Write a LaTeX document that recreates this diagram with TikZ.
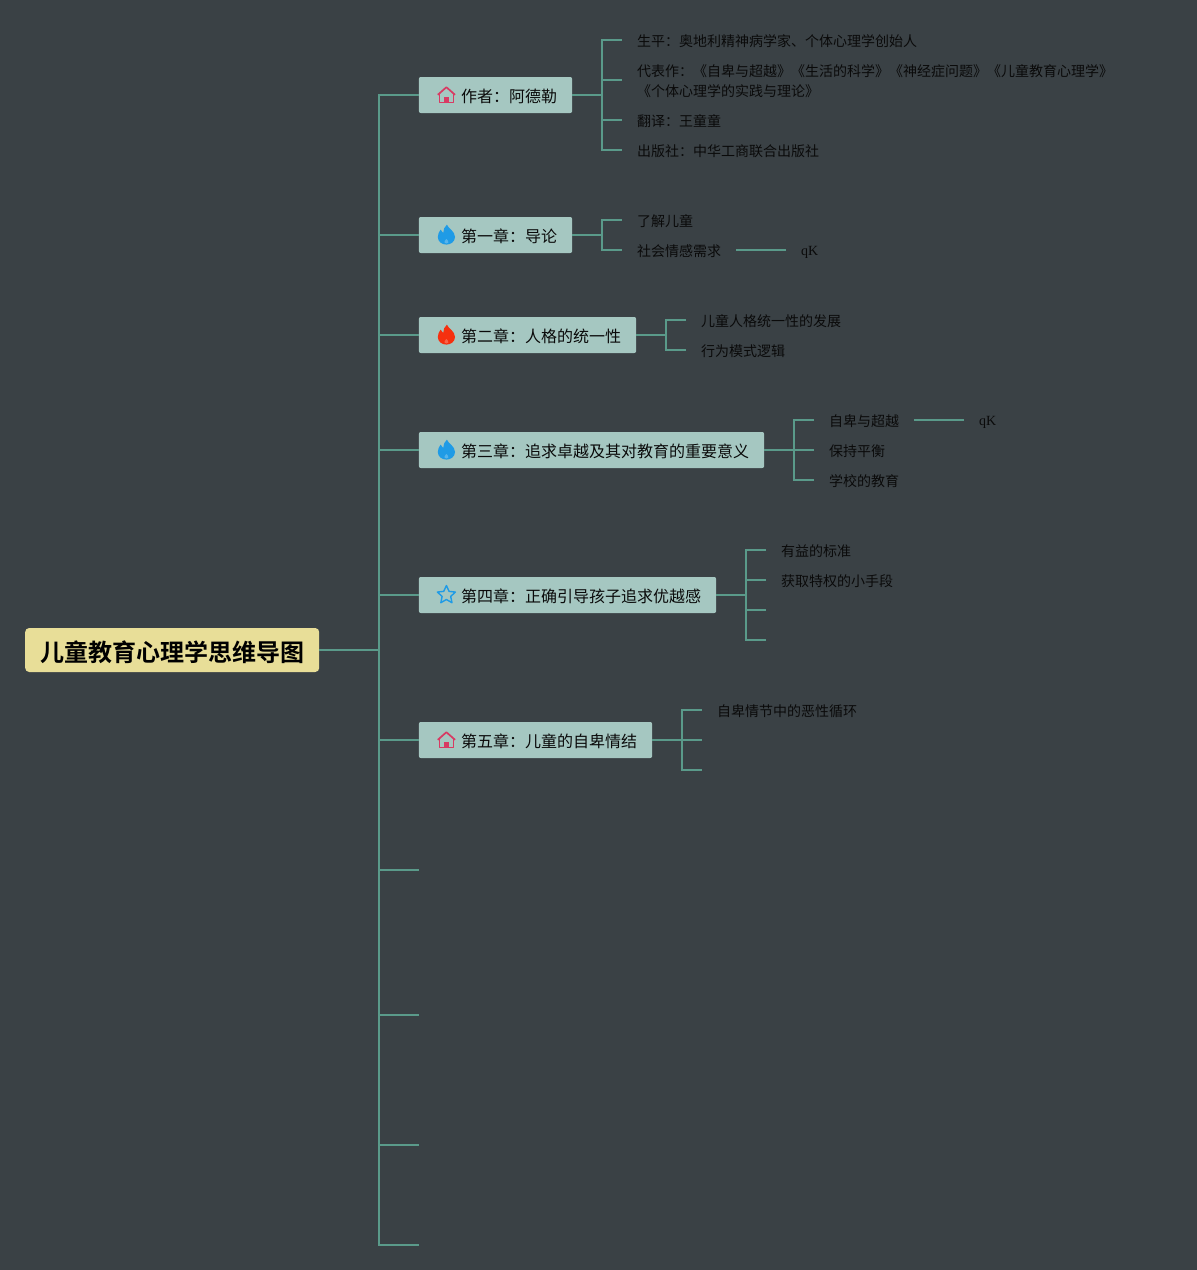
\documentclass[tikz,border=0pt]{standalone}
\usepackage{fontspec}
\setmainfont{Noto Sans CJK SC}[BoldFont={Noto Sans CJK SC Bold}]
\newfontfamily\latinserif{Liberation Serif}
\definecolor{bgcol}{HTML}{3A4145}
\definecolor{linkcol}{HTML}{5A9A8A}
\definecolor{boxcol}{HTML}{A5C7C1}
\definecolor{rootcol}{HTML}{E8DE98}
\definecolor{inkcol}{HTML}{0A0A0A}
\definecolor{homecol}{HTML}{D83A63}
\definecolor{bluecol}{HTML}{1F9BE6}
\definecolor{redcol}{HTML}{F5300F}
\tikzset{
  link/.style={color=linkcol, line width=1.8pt},
  root/.style={fill=rootcol, rounded corners=4pt, anchor=west, minimum width=294pt, minimum height=44pt, inner sep=0pt, text height=24pt, text depth=2pt, font=\bfseries\fontsize{24}{28}\selectfont, text=black},
  chapter/.style={fill=boxcol, rounded corners=2pt, anchor=west, minimum height=36pt, inner xsep=15pt, inner ysep=0pt, text height=16pt, text depth=1.8pt, font=\fontsize{16}{20}\selectfont, text=inkcol},
  leaf/.style={anchor=west, inner xsep=15pt, inner ysep=0pt, align=left, text height=14pt, text depth=1.4pt, font=\fontsize{14}{20}\selectfont, text=inkcol},
  latin/.style={leaf, text height=13pt, text depth=1.6pt, font=\latinserif\fontsize{14}{20}\selectfont},
  pics/house/.style={code={
    \draw[color=homecol, line width=1.7pt, line join=round] (-8.6,-0.2) -- (0,-7.8) -- (8.6,-0.2);
    \draw[color=homecol, line width=1.7pt, line join=round] (-7,-1.5) -- (-7,7.5) -- (7,7.5) -- (7,-1.5);
    \fill[color=homecol] (-2.4,7.5) rectangle (2.4,1.8);
  }},
  pics/flame/.style={code={
    \fill[color=#1] (0.5,-10.4) .. controls (2,-6) and (8.6,-4) .. (8.6,2) .. controls (8.6,6.5) and (4.5,9.6) .. (0,9.6) .. controls (-4.5,9.6) and (-8.6,6.5) .. (-8.6,2) .. controls (-8.6,-1) and (-7.4,-3) .. (-5.8,-5.4) .. controls (-5.2,-4.2) and (-4.2,-3) .. (-3.2,-2) .. controls (-3.2,-5) and (-2,-8.4) .. (0.5,-10.4);
    \fill[color=#1!75!white] (0,4) .. controls (1.5,5.2) and (2.2,6.5) .. (1.9,7.6) .. controls (1.5,8.8) and (-1.5,8.8) .. (-1.9,7.6) .. controls (-2.2,6.5) and (-1.5,5.2) .. (0,4);
  }},
  pics/star/.style={code={
    \draw[color=bluecol, line width=1.4pt, line join=round] (0,-9.5) -- (2.65,-3.64) -- (9.03,-2.94) -- (4.28,1.39) -- (5.58,7.69) -- (0,4.5) -- (-5.58,7.69) -- (-4.28,1.39) -- (-9.03,-2.94) -- (-2.65,-3.64) -- cycle;
  }},
}
\begin{document}
\begin{tikzpicture}[x=1pt,y=-1pt]
\fill[color=bgcol] (0,0) rectangle (1197,1270);
\useasboundingbox (0,0) rectangle (1197,1270);
% centre and chapters
\node[root] (root) at (25,650) {儿童教育心理学思维导图};
\coordinate (spine) at (379,650);
\node[chapter] (author) at (418.6,95) {\hspace*{27.4pt}作者：阿德勒};
\node[chapter] (ch1) at (418.6,235) {\hspace*{27.4pt}第一章：导论};
\node[chapter] (ch2) at (418.6,335) {\hspace*{27.4pt}第二章：人格的统一性};
\node[chapter] (ch3) at (418.6,450) {\hspace*{27.4pt}第三章：追求卓越及其对教育的重要意义};
\node[chapter] (ch4) at (418.6,595) {\hspace*{27.4pt}第四章：正确引导孩子追求优越感};
\node[chapter] (ch5) at (418.6,740) {\hspace*{27.4pt}第五章：儿童的自卑情结};
\coordinate (ch6) at (419,870);
\coordinate (ch7) at (419,1015);
\coordinate (ch8) at (419,1145);
\coordinate (ch9) at (419,1245);
\draw[link] (root.east) -- (spine);
\foreach \n in {author,ch1,ch2,ch3,ch4,ch5,ch6,ch7,ch8,ch9}
  \draw[link] (spine) |- (\n.west);
% icons
\path (author.west) ++(27.8,0) pic {house};
\path (ch1.west) ++(27.8,0) pic {flame=bluecol};
\path (ch2.west) ++(27.8,0) pic {flame=redcol};
\path (ch3.west) ++(27.8,0) pic {flame=bluecol};
\path (ch4.west) ++(27.8,0) pic {star};
\path (ch5.west) ++(27.8,0) pic {house};
% author
\node[leaf] (life) at (622,40) {生平：奥地利精神病学家、个体心理学创始人};
\node[leaf, text height=34pt] (works) at (622,80) {代表作：《自卑与超越》《生活的科学》《神经症问题》《儿童教育心理学》\\《个体心理学的实践与理论》};
\node[leaf] (trans) at (622,120) {翻译：王童童};
\node[leaf] (press) at (622,150) {出版社：中华工商联合出版社};
\foreach \n in {life,works,trans,press}
  \draw[link] (author.east) -- ++(29.5,0) |- (\n.west);
% chapter one
\node[leaf] (know) at (622,220) {了解儿童};
\node[leaf] (need) at (622,250) {社会情感需求};
\node[latin] (needq) at (786,250) {qK};
\foreach \n in {know,need}
  \draw[link] (ch1.east) -- ++(29.5,0) |- (\n.west);
\draw[link] (need.east) -- (needq.west);
% chapter two
\node[leaf] (grow) at (686,320) {儿童人格统一性的发展};
\node[leaf] (logic) at (686,350) {行为模式逻辑};
\foreach \n in {grow,logic}
  \draw[link] (ch2.east) -- ++(29.5,0) |- (\n.west);
% chapter three
\node[leaf] (infer) at (814,420) {自卑与超越};
\node[latin] (inferq) at (964,420) {qK};
\node[leaf] (keep) at (814,450) {保持平衡};
\node[leaf] (school) at (814,480) {学校的教育};
\foreach \n in {infer,keep,school}
  \draw[link] (ch3.east) -- ++(29.5,0) |- (\n.west);
\draw[link] (infer.east) -- (inferq.west);
% chapter four
\node[leaf] (rule) at (766,550) {有益的标准};
\node[leaf] (trick) at (766,580) {获取特权的小手段};
\coordinate (empty1) at (766,610);
\coordinate (empty2) at (766,640);
\foreach \n in {rule,trick,empty1,empty2}
  \draw[link] (ch4.east) -- ++(29.5,0) |- (\n.west);
% chapter five
\node[leaf] (cycle) at (702,710) {自卑情节中的恶性循环};
\coordinate (empty3) at (702,740);
\coordinate (empty4) at (702,770);
\foreach \n in {cycle,empty3,empty4}
  \draw[link] (ch5.east) -- ++(29.5,0) |- (\n.west);
\end{tikzpicture}
\end{document}
